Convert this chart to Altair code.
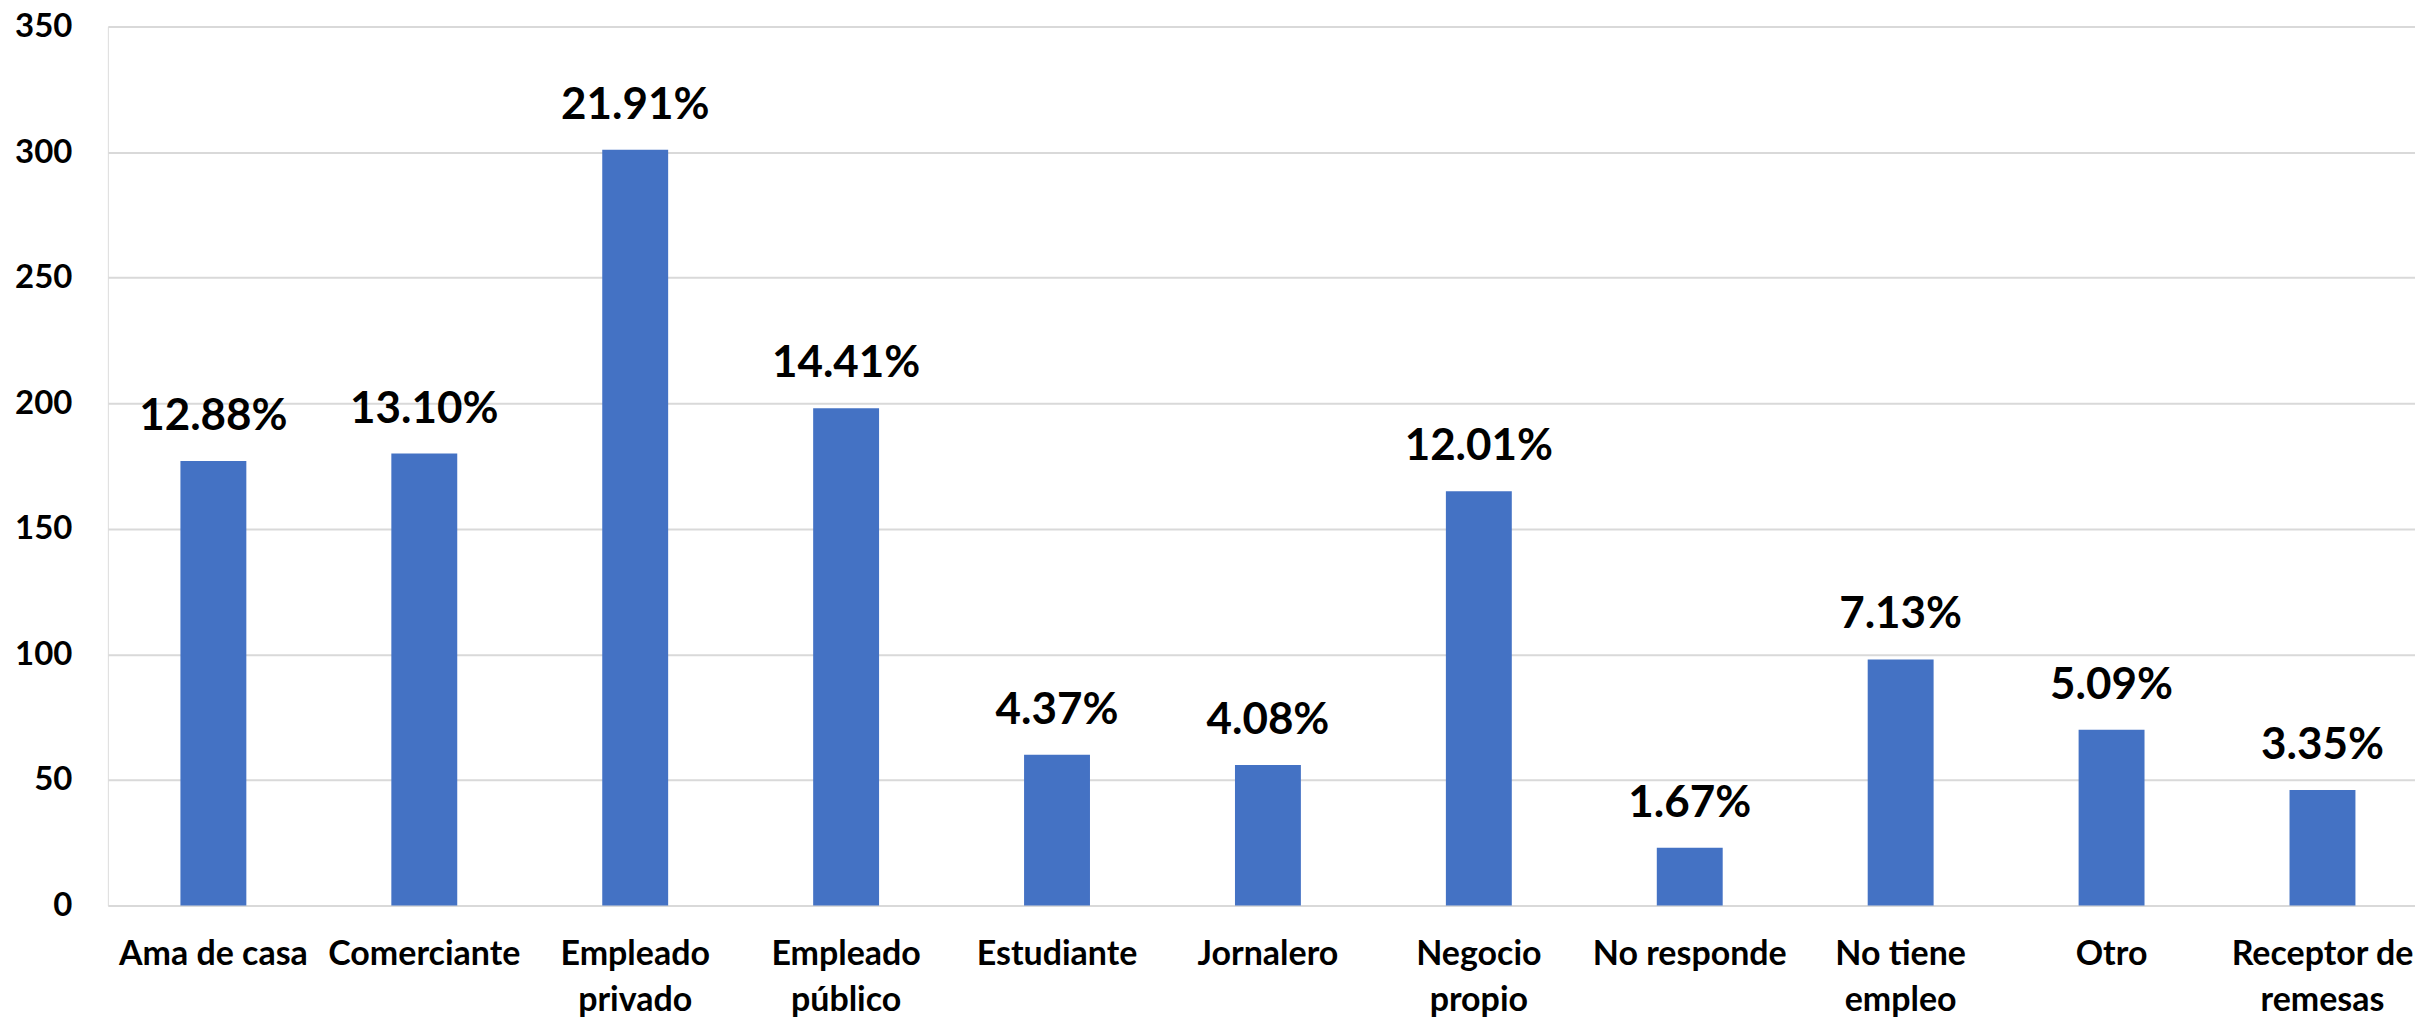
import altair as alt
import pandas as pd

categories = ["Ama de casa", "Comerciante", "Empleado\nprivado", "Empleado\npúblico",
              "Estudiante", "Jornalero", "Negocio\npropio", "No responde",
              "No tiene\nempleo", "Otro", "Receptor de\nremesas"]
counts = [177, 180, 301, 198, 60, 56, 165, 23, 98, 70, 46]
pct_labels = ["12.88%", "13.10%", "21.91%", "14.41%", "4.37%", "4.08%",
              "12.01%", "1.67%", "7.13%", "5.09%", "3.35%"]
y_ticks = [0, 50, 100, 150, 200, 250, 300, 350]

df = pd.DataFrame({"cat": categories, "n": counts, "pct": pct_labels})

FONT = "Lato"

x = alt.X("cat:N", sort=categories, title=None,
          scale=alt.Scale(range=[0, 2323], paddingInner=0.6875, paddingOuter=0.344),
          axis=alt.Axis(labelAngle=0, labelFont=FONT, labelFontWeight="bold",
                        labelFontSize=34, labelColor="#000000", labelPadding=32,
                        labelLineHeight=46, labelLimit=400,
                        labelExpr="split(datum.label, '\\n')",
                        domain=False, ticks=False, grid=False))
y = alt.Y("n:Q", title=None,
          scale=alt.Scale(domain=[0, 350], nice=False),
          axis=alt.Axis(values=y_ticks, labelFont=FONT, labelFontWeight="bold",
                        labelFontSize=33, labelColor="#000000", labelPadding=36,
                        domain=False, ticks=False, grid=True,
                        gridColor="#d9d9d9", gridWidth=2))

bars = alt.Chart(df).mark_bar(color="#4472C4").encode(x=x, y=y)
text = alt.Chart(df).mark_text(font=FONT, fontWeight="bold", fontSize=44,
                               color="#000000", baseline="bottom", dy=-22).encode(
    x=alt.X("cat:N", sort=categories), y="n:Q", text="pct:N")

chart = (bars + text).properties(
    width=2310, height=880,
    autosize=alt.AutoSizeParams(type="none"),
    padding={"left": 100, "top": 18, "right": 0, "bottom": 112},
).configure_view(stroke=None).configure(background="white")

chart.save("out.html", embed_options={"renderer": "svg", "actions": False})
